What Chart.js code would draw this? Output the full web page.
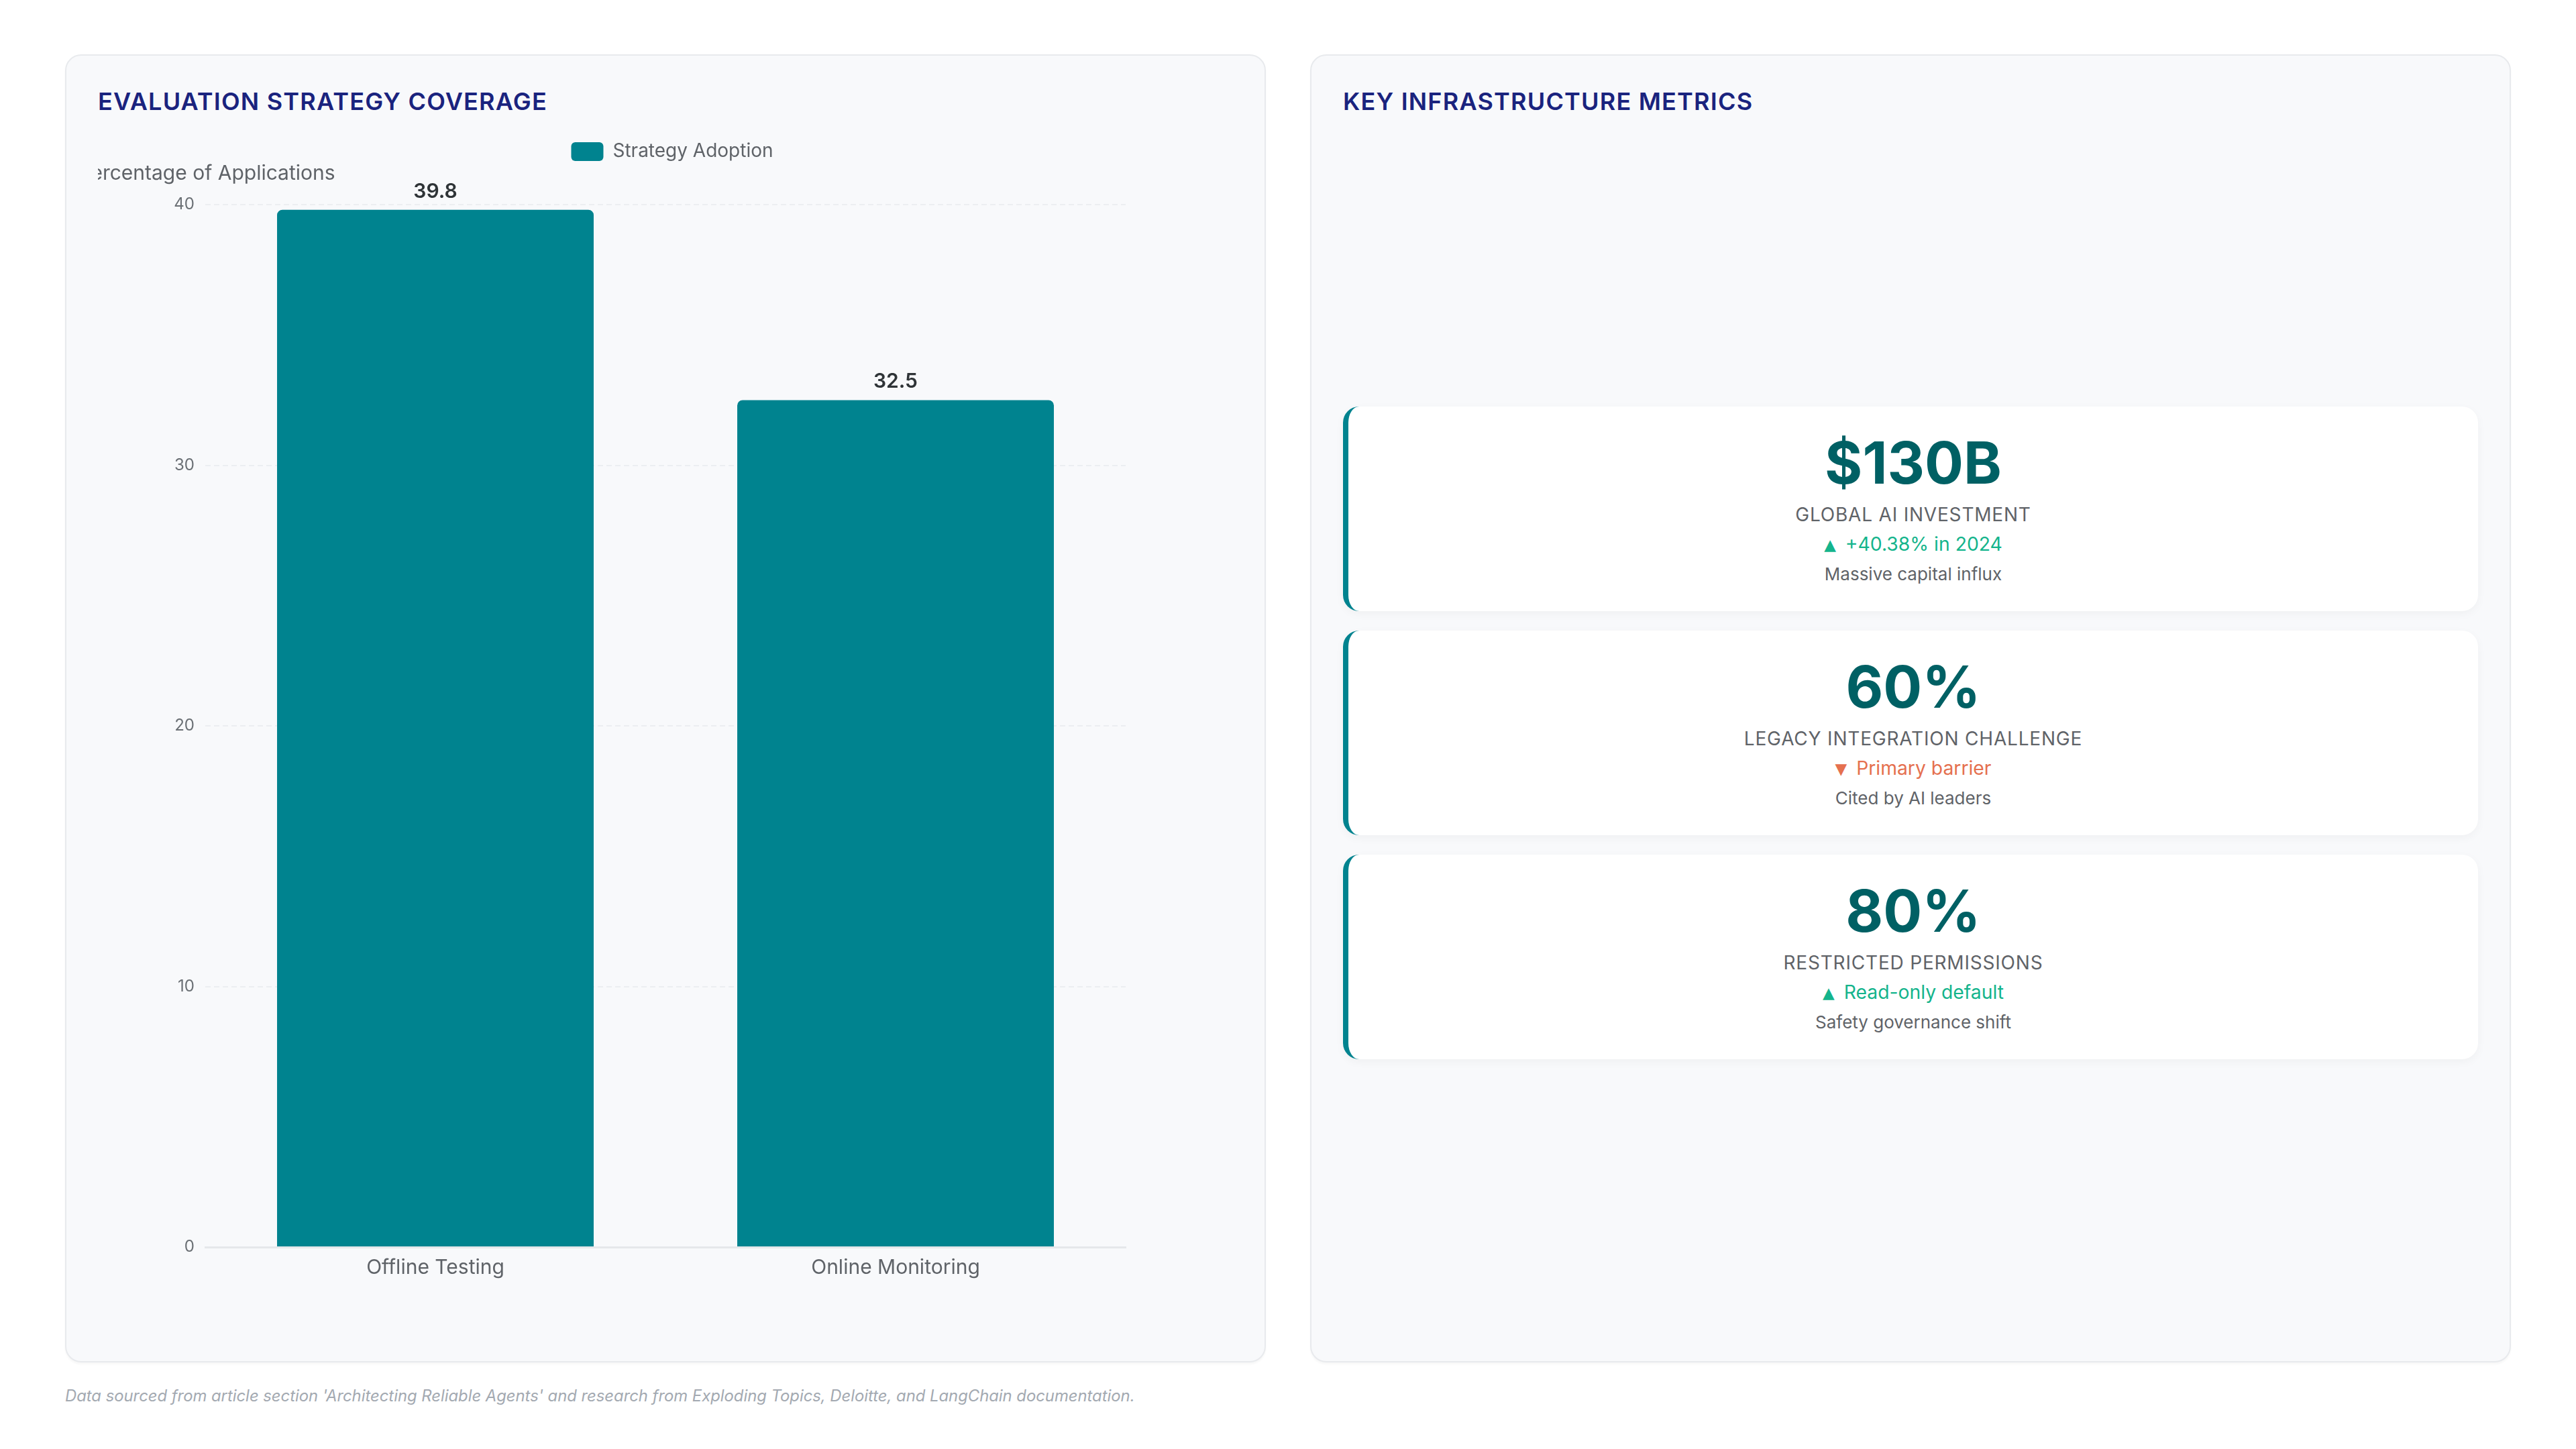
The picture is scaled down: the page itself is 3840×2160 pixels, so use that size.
<!DOCTYPE html>
<html>
<head>
<meta charset="utf-8">
<script src="https://cdn.jsdelivr.net/npm/chart.js@4.4.1/dist/chart.umd.min.js"></script>
<style>
html,body{margin:0;padding:0;background:#ffffff;width:3840px;height:2160px;overflow:hidden;font-family:Inter,"Noto Sans",sans-serif;}
.wrap{position:absolute;left:97px;top:81px;width:3646px;height:1950px;display:flex;gap:66px;}
.card{flex:1;box-sizing:border-box;background:#f8f9fb;border:2px solid #e8eaed;border-radius:24px;padding:47px;display:flex;flex-direction:column;box-shadow:0 3px 3px rgba(0,0,0,0.03);}
.title{font-size:36px;font-weight:600;color:#1a237e;letter-spacing:1.2px;line-height:42px;margin:0 0 30px 0;}
.chartbox{position:relative;flex:1;min-height:0;}
.metrics{flex:1;display:flex;flex-direction:column;justify-content:center;gap:29px;}
.metric{box-sizing:border-box;height:305px;background:#ffffff;border-radius:24px;border-left:8px solid #00838f;box-shadow:0 4px 14px rgba(0,0,0,0.04);text-align:center;padding-top:34px;}
.mv{font-size:86px;font-weight:700;color:#006064;line-height:100px;}
.ml{font-size:28px;color:#5f6368;letter-spacing:0.8px;line-height:36px;margin-top:9px;}
.mc{font-size:28.3px;line-height:36px;margin-top:8px;}
.mc .ar{font-family:"DejaVu Sans",sans-serif;font-size:23px;vertical-align:1px;margin-right:14px;}
.mn{font-size:26px;color:#5f6368;line-height:36px;margin-top:8px;}
.up{color:#14b48c;}
.down{color:#e5704f;}
.footer{position:absolute;left:97px;top:2066px;font-size:23.8px;font-style:italic;color:#a3a9b1;}
</style>
</head>
<body>
<div class="wrap">
  <div class="card">
    <div class="title">EVALUATION STRATEGY COVERAGE</div>
    <div class="chartbox"><canvas id="chart"></canvas></div>
  </div>
  <div class="card">
    <div class="title">KEY INFRASTRUCTURE METRICS</div>
    <div class="metrics" id="metrics"></div>
  </div>
</div>
<div class="footer">Data sourced from article section 'Architecting Reliable Agents' and research from Exploding Topics, Deloitte, and LangChain documentation.</div>
<script>
// ---- data ----
const categories = ['Offline Testing', 'Online Monitoring'];
const adoptionValues = [39.8, 32.5];
const seriesName = 'Strategy Adoption';
const yAxisTitle = 'Percentage of Applications';
const yMin = 0;
const yMax = 40;
const yStep = 10;

const metricValues = ['$130B', '60%', '80%'];
const metricLabels = ['GLOBAL AI INVESTMENT', 'LEGACY INTEGRATION CHALLENGE', 'RESTRICTED PERMISSIONS'];
const metricChanges = ['+40.38% in 2024', 'Primary barrier', 'Read-only default'];
const metricDirections = ['up', 'down', 'up'];
const metricNotes = ['Massive capital influx', 'Cited by AI leaders', 'Safety governance shift'];

// ---- metric cards ----
const box = document.getElementById('metrics');
metricValues.forEach((v, i) => {
  const d = document.createElement('div');
  d.className = 'metric';
  const arrow = metricDirections[i] === 'up' ? '\u25B2' : '\u25BC';
  d.innerHTML = '<div class="mv"></div><div class="ml"></div><div class="mc ' + metricDirections[i] + '"><span class="ar"></span><span class="tx"></span></div><div class="mn"></div>';
  d.querySelector('.mv').textContent = v;
  d.querySelector('.ml').textContent = metricLabels[i];
  d.querySelector('.ar').textContent = arrow;
  d.querySelector('.tx').textContent = metricChanges[i];
  d.querySelector('.mn').textContent = metricNotes[i];
  box.appendChild(d);
});

// ---- chart ----
const FONT = 'Inter';
const legendSpacer = {
  id: 'legendSpacer',
  beforeInit(chart) {
    const orig = chart.legend.fit;
    chart.legend.fit = function () { orig.bind(chart.legend)(); this.height += 55; };
  }
};
const valueLabels = {
  id: 'valueLabels',
  afterDatasetsDraw(chart) {
    const ctx = chart.ctx;
    ctx.save();
    ctx.font = '600 30px ' + FONT;
    ctx.fillStyle = '#2f3437';
    ctx.textAlign = 'center';
    ctx.textBaseline = 'middle';
    chart.getDatasetMeta(0).data.forEach((bar, i) => {
      ctx.fillText(String(chart.data.datasets[0].data[i]), bar.x, bar.y - 27);
    });
    ctx.restore();
  }
};
const yTitlePlugin = {
  id: 'yTitle',
  afterDraw(chart) {
    const ctx = chart.ctx;
    const a = chart.chartArea;
    ctx.save();
    ctx.font = '30px ' + FONT;
    ctx.fillStyle = '#5f6368';
    ctx.textAlign = 'center';
    ctx.textBaseline = 'middle';
    ctx.fillText(yAxisTitle, a.left + 2, a.top - 46);
    ctx.restore();
  }
};

new Chart(document.getElementById('chart'), {
  type: 'bar',
  data: {
    labels: categories,
    datasets: [{
      label: seriesName,
      data: adoptionValues,
      backgroundColor: '#00838f',
      borderRadius: {topLeft: 8, topRight: 8, bottomLeft: 0, bottomRight: 0},
      borderSkipped: 'bottom',
      barPercentage: 0.86,
      categoryPercentage: 0.8
    }]
  },
  options: {
    responsive: true,
    maintainAspectRatio: false,
    animation: false,
    devicePixelRatio: 1,
    layout: {padding: {top: 0, left: 20, right: 0, bottom: 61}},
    plugins: {
      legend: {
        position: 'top',
        labels: {
          boxWidth: 48, boxHeight: 28, useBorderRadius: true, borderRadius: 6,
          color: '#5f6368', font: {family: FONT, size: 28}, padding: 10
        }
      },
      tooltip: {enabled: false}
    },
    scales: {
      x: {
        grid: {display: false, drawTicks: false},
        border: {display: true, color: '#e6e8eb', width: 3},
        ticks: {color: '#5f6368', font: {family: FONT, size: 30}, padding: 13}
      },
      y: {
        min: yMin, max: yMax,
        grid: {color: '#eceef1', lineWidth: 2, drawTicks: false},
        border: {display: false, dash: [8, 5]},
        ticks: {stepSize: yStep, color: '#6b7075', font: {family: FONT, size: 24}, padding: 16},
        afterFit(s) { s.width = 140; }
      },
      yRight: {
        position: 'right', min: yMin, max: yMax,
        grid: {display: false, drawTicks: false},
        border: {display: false},
        ticks: {display: false},
        afterFit(s) { s.width = 160; }
      }
    }
  },
  plugins: [legendSpacer, valueLabels, yTitlePlugin]
});
</script>
</body>
</html>
